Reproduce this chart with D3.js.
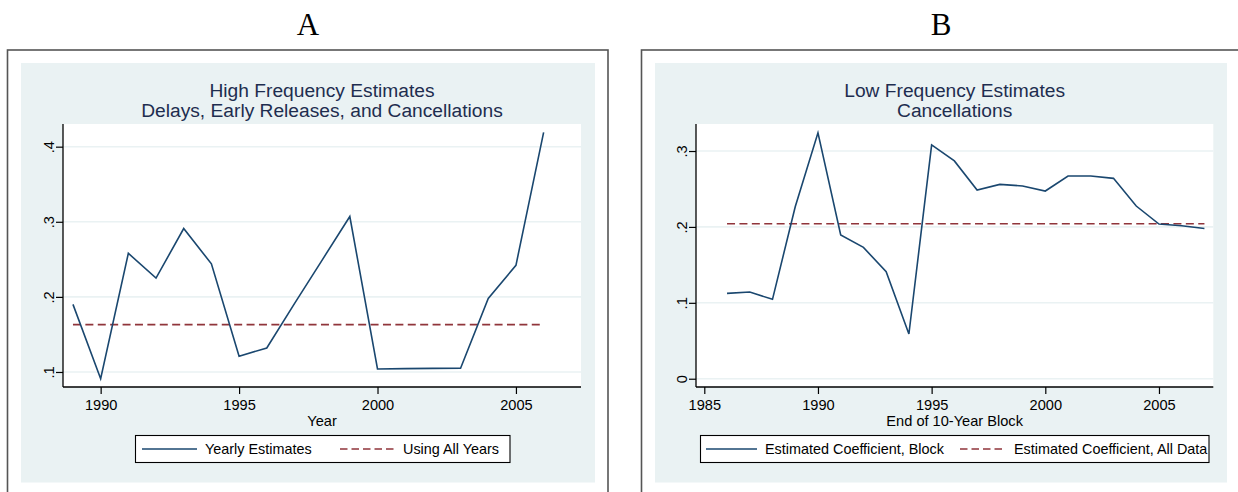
<!DOCTYPE html>
<html>
<head>
<meta charset="utf-8">
<script src="https://cdn.jsdelivr.net/npm/d3@7"></script>
<style>
  html, body { margin: 0; padding: 0; background: #ffffff; }
  svg { display: block; }
</style>
</head>
<body>
<svg id="chart" width="1238" height="492"></svg>
<script>
// ---------------- DATA ----------------
const yearsA = [1989, 1990, 1991, 1992, 1993, 1994, 1995, 1996, 1997, 1998, 1999, 2000, 2001, 2002, 2003, 2004, 2005, 2006];
const yearlyEstimates = [0.190, 0.091, 0.258, 0.225, 0.291, 0.244, 0.121, 0.132, 0.191, 0.249, 0.307, 0.104, 0.1045, 0.1048, 0.105, 0.198, 0.242, 0.419];
const allYearsEstimate = 0.163;
const xTicksA = [1990, 1995, 2000, 2005];
const yTicksA = [0.1, 0.2, 0.3, 0.4];
const yTickLabelsA = [".1", ".2", ".3", ".4"];

const yearsB = [1986, 1987, 1988, 1989, 1990, 1991, 1992, 1993, 1994, 1995, 1996, 1997, 1998, 1999, 2000, 2001, 2002, 2003, 2004, 2005, 2006, 2007];
const blockEstimates = [0.1125, 0.1142, 0.1046, 0.2266, 0.324, 0.1893, 0.173, 0.141, 0.0589, 0.308, 0.287, 0.2486, 0.256, 0.254, 0.2473, 0.267, 0.267, 0.264, 0.2275, 0.2038, 0.2016, 0.198];
const allDataEstimate = 0.2042;
const xTicksB = [1985, 1990, 1995, 2000, 2005];
const yTicksB = [0, 0.1, 0.2, 0.3];
const yTickLabelsB = ["0", ".1", ".2", ".3"];

const panelLetters = ["A", "B"];
const titlesA = ["High Frequency Estimates", "Delays, Early Releases, and Cancellations"];
const titlesB = ["Low Frequency Estimates", "Cancellations"];
const xLabelA = "Year";
const xLabelB = "End of 10-Year Block";
const legendA = ["Yearly Estimates", "Using All Years"];
const legendB = ["Estimated Coefficient, Block", "Estimated Coefficient, All Data"];

// ---------------- STYLE ----------------
const SANS = "'Liberation Sans', Arial, Helvetica, sans-serif";
const SERIF = "'Liberation Serif', 'Times New Roman', serif";
const BG = "#eaf2f3";
const GRID = "#eaf2f3";
const NAVY = "#1a476f";
const MAROON = "#90353b";
const TITLE = "#1e2d4f";

const svg = d3.select("#chart");

function panel(cfg) {
  const g = svg.append("g");
  // outer frame
  g.append("rect")
    .attr("x", cfg.frame[0]).attr("y", cfg.frame[1])
    .attr("width", cfg.frame[2]).attr("height", cfg.frame[3])
    .attr("fill", "#ffffff").attr("stroke", "#555555").attr("stroke-width", 1.6);
  // graph region background
  g.append("rect")
    .attr("x", cfg.bg[0]).attr("y", cfg.bg[1])
    .attr("width", cfg.bg[2]).attr("height", cfg.bg[3])
    .attr("fill", BG);
  // plot region
  const [pl, pt, pr, pb] = cfg.plot;
  g.append("rect").attr("x", pl).attr("y", pt).attr("width", pr - pl).attr("height", pb - pt).attr("fill", "#ffffff");

  const x = d3.scaleLinear().domain(cfg.xDomain).range([pl, pr]);
  const y = d3.scaleLinear().domain(cfg.yDomain).range([pb, pt]);

  // panel letter
  svg.append("text").attr("x", cfg.letterX).attr("y", 35)
    .attr("text-anchor", "middle").attr("font-family", SERIF).attr("font-size", 31)
    .attr("fill", "#000").text(cfg.letter);

  // titles
  cfg.titles.forEach((t, i) => {
    g.append("text").attr("x", (pl + pr) / 2).attr("y", 96.7 + i * 20)
      .attr("text-anchor", "middle").attr("font-family", SANS).attr("font-size", 19.2)
      .attr("fill", TITLE).text(t);
  });

  // gridlines
  g.append("g").selectAll("line").data(cfg.yTicks).join("line")
    .attr("x1", pl).attr("x2", pr)
    .attr("y1", d => y(d)).attr("y2", d => y(d))
    .attr("stroke", GRID).attr("stroke-width", 1.6);

  // x axis
  const xAxis = d3.axisBottom(x).tickValues(cfg.xTicks).tickFormat(d3.format("d")).tickSize(7).tickPadding(5);
  const gx = g.append("g").attr("transform", `translate(0,${pb})`).call(xAxis);
  gx.select(".domain").attr("d", `M${pl},0H${pr}`).attr("stroke", "#000").attr("stroke-width", 1.3);
  gx.selectAll(".tick line").attr("stroke", "#000").attr("stroke-width", 1.2);
  gx.selectAll(".tick text").attr("font-family", SANS).attr("font-size", 14.6).attr("fill", "#000")
    .attr("dy", null).attr("y", 23);

  // y axis
  const yAxis = d3.axisLeft(y).tickValues(cfg.yTicks).tickFormat((d, i) => cfg.yTickLabels[i]).tickSize(7).tickPadding(0);
  const gy = g.append("g").attr("transform", `translate(${pl},0)`).call(yAxis);
  gy.select(".domain").attr("d", `M0,${pt}V${pb}`).attr("stroke", "#000").attr("stroke-width", 1.3);
  gy.selectAll(".tick line").attr("stroke", "#000").attr("stroke-width", 1.2);
  gy.selectAll(".tick text").attr("font-family", SANS).attr("font-size", 14.6).attr("fill", "#000")
    .attr("x", null).attr("dy", null)
    .attr("text-anchor", "middle")
    .attr("transform", "translate(-9.5,0) rotate(-90)");

  // x axis title
  g.append("text").attr("x", (pl + pr) / 2).attr("y", 425.5)
    .attr("text-anchor", "middle").attr("font-family", SANS).attr("font-size", 14.6)
    .attr("fill", "#000").text(cfg.xLabel);

  // all-data dashed line
  g.append("line")
    .attr("x1", x(cfg.years[0])).attr("x2", x(cfg.years[cfg.years.length - 1]))
    .attr("y1", y(cfg.constant)).attr("y2", y(cfg.constant))
    .attr("stroke", MAROON).attr("stroke-width", 1.6).attr("stroke-dasharray", "8,4.4");

  // series line
  const line = d3.line().x((d, i) => x(cfg.years[i])).y(d => y(d));
  g.append("path").datum(cfg.values).attr("d", line)
    .attr("fill", "none").attr("stroke", NAVY).attr("stroke-width", 1.6)
    .attr("stroke-linejoin", "miter");

  // legend
  const L = cfg.legend;
  g.append("rect").attr("x", L.box[0]).attr("y", L.box[1]).attr("width", L.box[2]).attr("height", L.box[3])
    .attr("fill", "#ffffff").attr("stroke", "#000").attr("stroke-width", 1.1);
  const ly = L.box[1] + L.box[3] / 2;
  g.append("line").attr("x1", L.s1[0]).attr("x2", L.s1[1]).attr("y1", ly).attr("y2", ly)
    .attr("stroke", NAVY).attr("stroke-width", 1.6);
  g.append("line").attr("x1", L.s2[0]).attr("x2", L.s2[1]).attr("y1", ly).attr("y2", ly)
    .attr("stroke", MAROON).attr("stroke-width", 1.6).attr("stroke-dasharray", "7.5,4");
  [0, 1].forEach(i => {
    g.append("text").attr("x", L.tx[i]).attr("y", ly + 5.3)
      .attr("font-family", SANS).attr("font-size", 14.4).attr("fill", "#000").text(L.labels[i]);
  });
}

panel({
  letter: panelLetters[0], letterX: 308,
  frame: [7.5, 50, 600.5, 460],
  bg: [21, 63, 574, 419.5],
  plot: [63, 124, 581, 387],
  xDomain: [1988.64, 2007.35],
  yDomain: [0.080, 0.4302],
  xTicks: xTicksA, yTicks: yTicksA, yTickLabels: yTickLabelsA,
  titles: titlesA, xLabel: xLabelA,
  years: yearsA, values: yearlyEstimates, constant: allYearsEstimate,
  legend: { box: [135.5, 435.5, 374.5, 27], s1: [142, 197], s2: [340, 394], tx: [205, 403], labels: legendA }
});

panel({
  letter: panelLetters[1], letterX: 941,
  frame: [641.5, 50, 620, 460],
  bg: [655, 63, 572, 419.5],
  plot: [696, 124, 1213.3, 387],
  xDomain: [1984.635, 2007.39],
  yDomain: [-0.0109, 0.3356],
  xTicks: xTicksB, yTicks: yTicksB, yTickLabels: yTickLabelsB,
  titles: titlesB, xLabel: xLabelB,
  years: yearsB, values: blockEstimates, constant: allDataEstimate,
  legend: { box: [700.5, 435.5, 508.5, 27], s1: [706, 757], s2: [960, 1004], tx: [765, 1014], labels: legendB }
});
</script>
</body>
</html>
